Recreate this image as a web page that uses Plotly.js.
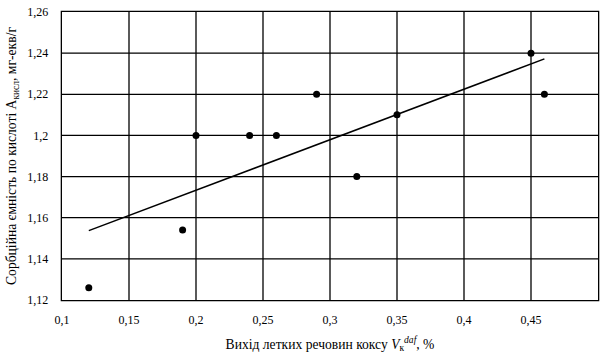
<!DOCTYPE html>
<html>
<head>
<meta charset="utf-8">
<script src="https://cdn.plot.ly/plotly-3.0.1.min.js"></script>
<style>
html,body{margin:0;padding:0;background:#fff;}
#chart{width:605px;height:358px;}
.js-plotly-plot .plotly .crisp{shape-rendering:auto !important;}
</style>
</head>
<body>
<div id="chart"></div>
<script>
// Data
const volatileYield = [0.12, 0.19, 0.20, 0.24, 0.26, 0.29, 0.32, 0.35, 0.45, 0.46];
const sorptionCapacity = [1.126, 1.154, 1.20, 1.20, 1.20, 1.22, 1.18, 1.21, 1.24, 1.22];
const trendX = [0.12, 0.46];
const trendY = [1.1537, 1.2372];

const traces = [
  {x: trendX, y: trendY, type: 'scatter', mode: 'lines',
   line: {color: '#000', width: 1.5}, hoverinfo: 'skip', showlegend: false},
  {x: volatileYield, y: sorptionCapacity, type: 'scatter', mode: 'markers',
   marker: {color: '#000', size: 7}, showlegend: false}
];

const tickFont = {family: 'Liberation Serif', size: 12, color: '#000000'};
const titleFont = {family: 'Liberation Serif', size: 13.6, color: '#000000'};

const layout = {
  width: 605, height: 358,
  margin: {l: 62, r: 7, t: 12, b: 58},
  paper_bgcolor: '#ffffff', plot_bgcolor: '#ffffff',
  separators: ', ',
  font: {family: 'Liberation Serif', size: 12, color: '#000000'},
  showlegend: false,
  xaxis: {
    range: [0.1, 0.5], dtick: 0.05, tick0: 0.1,
    showgrid: true, gridcolor: 'rgb(0,0,0)', gridwidth: 1.3,
    showline: true, linecolor: 'rgb(0,0,0)', linewidth: 1.3, mirror: true,
    zeroline: false, ticks: '', ticklabelstandoff: 8,
    tickfont: tickFont,
    title: {text: 'Вихід летких речовин коксу <i>V</i><sub>к</sub><sup><i>daf</i></sup>, %',
            font: titleFont, standoff: 13}
  },
  yaxis: {
    range: [1.12, 1.26], dtick: 0.02, tick0: 1.12,
    showgrid: true, gridcolor: 'rgb(0,0,0)', gridwidth: 1.3,
    showline: true, linecolor: 'rgb(0,0,0)', linewidth: 1.3, mirror: true,
    zeroline: false, ticks: '', ticklabelstandoff: 10,
    tickfont: tickFont,
    title: {text: 'Сорбційна ємність по кислоті A<sub>кисл</sub>, мг-екв/г',
            font: titleFont, standoff: 7}
  }
};

Plotly.newPlot('chart', traces, layout, {displayModeBar: false, staticPlot: true});
</script>
</body>
</html>
